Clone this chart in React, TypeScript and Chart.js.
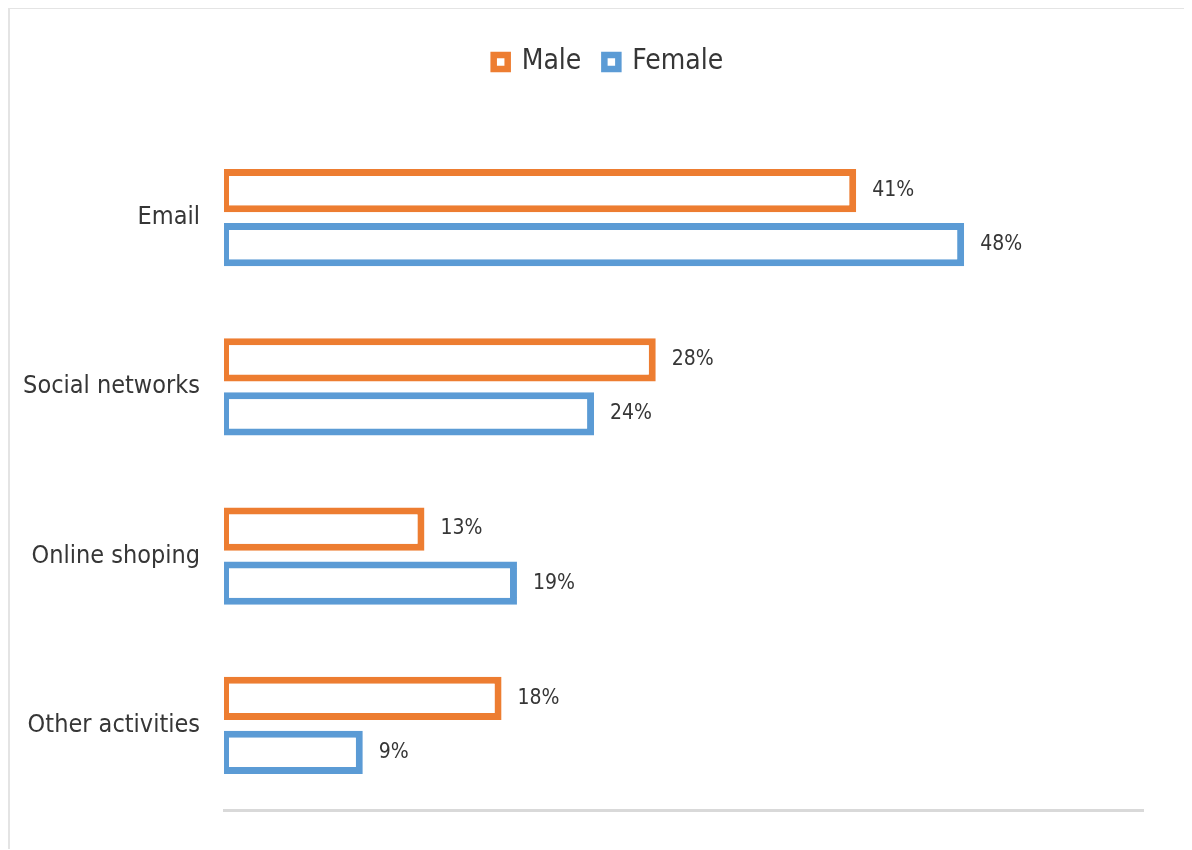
import React, { useEffect, useRef } from "react";
import { Chart, registerables } from "chart.js";

Chart.register(...registerables);

const categories = ["Email", "Social networks", "Online shoping", "Other activities"];
const maleValues = [41, 28, 13, 18];
const femaleValues = [48, 24, 19, 9];
const seriesNames = ["Male", "Female"];

const FONT = "'DejaVu Sans Condensed', 'Liberation Sans Narrow', sans-serif";
const TEXT = "#363636";

const valueLabels = {
  id: "valueLabels",
  afterDatasetsDraw(chart: any) {
    const ctx = chart.ctx;
    ctx.save();
    ctx.font = `21px ${FONT}`;
    ctx.fillStyle = TEXT;
    ctx.textAlign = "left";
    ctx.textBaseline = "middle";
    chart.data.datasets.forEach((ds: any, di: number) => {
      const meta = chart.getDatasetMeta(di);
      meta.data.forEach((bar: any, i: number) => {
        ctx.fillText(`${ds.data[i]}%`, bar.x + 16, bar.y);
      });
    });
    ctx.restore();
  },
};

const legendSpace = {
  id: "legendSpace",
  beforeInit(chart: any) {
    const orig = chart.legend.fit;
    chart.legend.fit = function () {
      orig.call(this);
      this.height += 47;
    };
    const origDraw = chart.legend.draw;
    chart.legend.draw = function () {
      const ctx = this.ctx;
      ctx.save();
      ctx.translate(32, 0);
      origDraw.call(this);
      ctx.restore();
    };
  },
};

export default function App() {
  const ref = useRef<HTMLCanvasElement | null>(null);
  useEffect(() => {
    if (!ref.current) return;
    const bw = { top: 7, right: 7, bottom: 7, left: 5 };
    const chart = new Chart(ref.current, {
      type: "bar",
      data: {
        labels: categories,
        datasets: [
          {
            label: seriesNames[0],
            data: maleValues,
            backgroundColor: "#ffffff",
            borderColor: "#ED7D31",
            borderWidth: bw,
            borderSkipped: false,
            categoryPercentage: 0.64,
            barPercentage: 0.8,
          },
          {
            label: seriesNames[1],
            data: femaleValues,
            backgroundColor: "#ffffff",
            borderColor: "#5B9BD5",
            borderWidth: bw,
            borderSkipped: false,
            categoryPercentage: 0.64,
            barPercentage: 0.8,
          },
        ],
      },
      plugins: [valueLabels, legendSpace],
      options: {
        indexAxis: "y",
        animation: false,
        responsive: true,
        maintainAspectRatio: false,
        layout: { padding: { top: 16, right: 41, bottom: 34, left: 0 } },
        plugins: {
          tooltip: { enabled: false },
          legend: {
            position: "top",
            labels: {
              boxWidth: 14,
              boxHeight: 14,
              padding: 23,
              color: TEXT,
              font: { size: 28, family: FONT },
            },
          },
        },
        scales: {
          x: {
            min: 0,
            max: 59.6,
            grid: { display: false, drawTicks: false },
            border: { display: true, color: "#d9d9d9", width: 3 },
            ticks: { display: false },
            afterFit(scale: any) {
              scale.height = 0;
            },
          },
          y: {
            grid: { display: false, drawTicks: false },
            border: { display: false },
            ticks: {
              color: TEXT,
              padding: 24,
              font: { size: 25, family: FONT },
            },
            afterFit(scale: any) {
              scale.width = 214;
            },
          },
        },
      },
    } as any);
    return () => chart.destroy();
  }, []);

  return (
    <div
      style={{
        width: 1176,
        height: 842,
        boxSizing: "border-box",
        borderTop: "2px solid #e4e4e4",
        borderLeft: "2px solid #e4e4e4",
        marginTop: -1,
        background: "#fff",
      }}
    >
      <div style={{ position: "relative", width: 1174, height: 840 }}>
        <canvas ref={ref} />
      </div>
    </div>
  );
}
